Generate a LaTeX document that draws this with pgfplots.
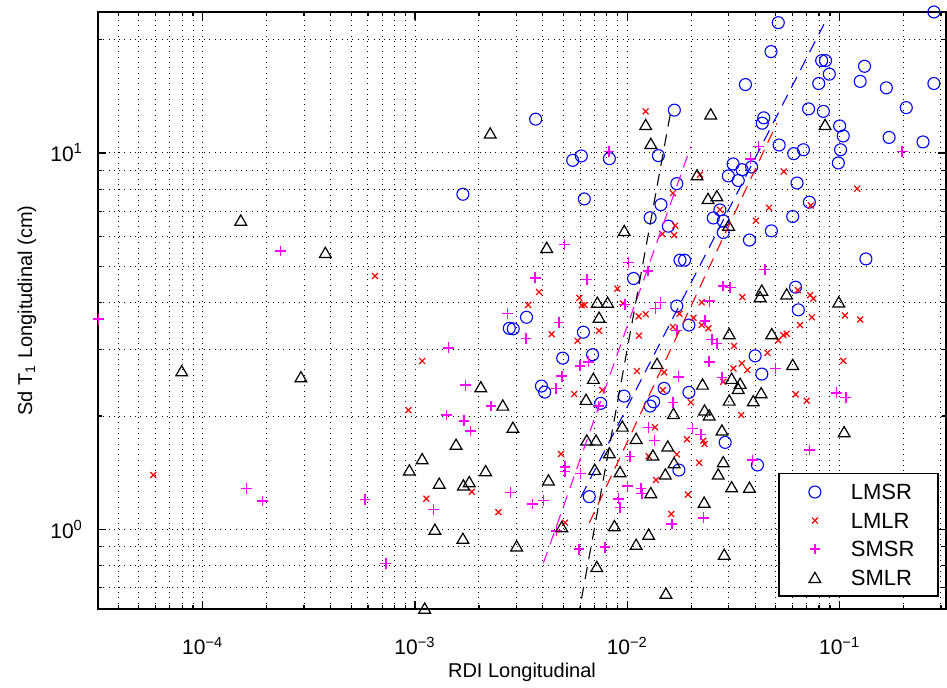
\documentclass[border=0pt]{standalone}
\usepackage{pgfplots}
\pgfplotsset{compat=1.18}
\usepackage{fontspec}
\setmainfont{Liberation Sans}
\definecolor{mag}{rgb}{1,0,1}
\begin{document}
\begin{tikzpicture}
\useasboundingbox (-49pt,-39.5pt) rectangle (424.5pt,304.5pt);
\begin{axis}[
  scale only axis, width=424pt, height=298.5pt,
  xmode=log, ymode=log,
  xmin=3.21e-5, xmax=0.317, ymin=0.614, ymax=23.7,
  xtick={1e-4,1e-3,1e-2,1e-1},
  xticklabels={10\textsuperscript{−4},10\textsuperscript{−3},10\textsuperscript{−2},10\textsuperscript{−1}},
  ytick={1,10},
  yticklabels={10\textsuperscript{0},10\textsuperscript{1}},
  minor xtick={4e-5,5e-5,6e-5,7e-5,8e-5,9e-5,2e-4,3e-4,4e-4,5e-4,6e-4,7e-4,8e-4,9e-4,2e-3,3e-3,4e-3,5e-3,6e-3,7e-3,8e-3,9e-3,0.02,0.03,0.04,0.05,0.06,0.07,0.08,0.09,0.2,0.3},
  minor ytick={0.7,0.8,0.9,2,3,4,5,6,7,8,9,20},
  grid=both,
  grid style={black, line width=0.5pt, dash pattern=on 0.5pt off 2.15pt},
  minor grid style={black, line width=0.5pt, dash pattern=on 0.5pt off 2.15pt},
  major grid style={black, line width=0.5pt, dash pattern=on 0.5pt off 2.15pt},
  tick align=inside, tick pos=both,
  major tick length=4pt, minor tick length=2pt,
  axis line style={line width=0.9pt},
  every tick/.style={black, line width=0.6pt},
  font=\fontsize{10.5}{12.6}\selectfont,
  xticklabel style={anchor=base, yshift=-23pt, font=\fontsize{10.5}{12.6}\selectfont},
  yticklabel style={font=\fontsize{10.5}{12.6}\selectfont, xshift=-4pt},
  xlabel={RDI Longitudinal},
  ylabel={Sd T\textsubscript{1} Longitudinal (cm)},
  xlabel style={at={(axis description cs:0.5,0)}, anchor=base, yshift=-34.5pt, font=\fontsize{10}{12}\selectfont},
  ylabel style={at={(axis description cs:-0.0837,0.5)}, anchor=center, font=\fontsize{10}{12}\selectfont},
  clip mode=individual,
  legend image code/.code={\path[draw=none, fill=none] (0pt,-7.125pt) rectangle (35.85pt,7.125pt); \draw[#1] plot coordinates {(17.85pt,0pt)};},
  legend style={at={(axis description cs:0.99175,0.0201)}, anchor=south east, draw=black, line width=0.8pt, inner xsep=0pt, inner ysep=2.2pt, row sep=0pt, nodes={inner sep=0pt, text depth=0pt}, font=\fontsize{11}{13}\selectfont},
  legend cell align=left,
]
\addplot[only marks, mark=o, color=blue, mark size=3pt, line width=0.55pt] coordinates {
(0.278,23.7) (0.0514,22.2) (0.0475,18.6) (0.0823,17.6) (0.0858,17.6) (0.131,17.0) (0.0894,16.2) (0.125,15.5) (0.0797,15.3) (0.278,15.3) (0.0360,15.2) (0.166,14.9) (0.206,13.2) (0.0714,13.1) (0.0838,12.9) (0.01665,13.0) (0.00370,12.3) (0.0439,12.4) (0.0432,12.0) (0.100,11.8) (0.104,11.1) (0.171,11.0) (0.247,10.7) (0.0519,10.5) (0.0675,10.2) (0.101,10.2) (0.0608,9.96) (0.00553,9.56) (0.00607,9.82) (0.00823,9.66) (0.0140,9.84) (0.0986,9.41) (0.0315,9.35) (0.0347,9.03) (0.0385,9.18) (0.0299,8.69) (0.0333,8.45) (0.0171,8.29) (0.0630,8.32) (0.00627,7.55) (0.0720,7.40) (0.0144,7.29) (0.0273,7.06) (0.0128,6.73) (0.0254,6.72) (0.0601,6.78) (0.0283,6.60) (0.0156,6.39) (0.0283,6.15) (0.0477,6.21) (0.0376,5.87) (0.133,5.23) (0.0177,5.19) (0.0186,5.19) (0.0107,4.64) (0.0620,4.40) (0.0171,3.92) (0.0639,3.83) (0.00335,3.66) (0.00278,3.42) (0.00290,3.41) (0.00621,3.34) (0.0195,3.49) (0.00168,7.77) (0.00496,2.85) (0.00686,2.91) (0.0400,2.89) (0.0430,2.585) (0.00394,2.402) (0.00408,2.315) (0.00965,2.259) (0.0149,2.368) (0.0195,2.311) (0.00749,2.161) (0.0128,2.126) (0.0133,2.182) (0.0289,1.702) (0.0410,1.482) (0.0175,1.437) (0.00662,1.221)
};
\addlegendentry{\makebox[43.65pt][l]{LMSR}}
\addplot[only marks, mark=x, color=red, mark size=2.1pt, line width=0.6pt] coordinates {
(0.0122,12.9) (0.000648,4.71) (0.0220,8.76) (0.0545,8.93) (0.121,8.04) (0.0164,7.82) (0.0731,7.25) (0.0465,7.15) (0.0273,7.07) (0.0403,6.61) (0.0168,6.41) (0.0146,6.09) (0.0166,6.05) (0.00384,4.27) (0.00897,4.36) (0.0636,4.32) (0.0348,4.14) (0.0726,4.19) (0.0752,4.10) (0.00594,4.12) (0.00610,3.94) (0.00629,3.95) (0.00341,3.95) (0.00954,3.98) (0.0224,4.01) (0.0113,3.68) (0.0122,3.73) (0.0176,3.74) (0.0205,3.65) (0.0740,3.66) (0.106,3.70) (0.125,3.61) (0.00108,2.80) (0.000930,2.074) (5.85e-5,1.394) (0.00185,1.258) (0.00113,1.206) (0.00247,1.111) (0.00440,3.30) (0.00736,3.37) (0.00583,3.17) (0.01135,3.27) (0.0164,3.45) (0.0224,3.49) (0.0241,3.42) (0.0318,3.07) (0.0514,3.18) (0.0543,3.28) (0.0563,3.31) (0.0651,3.49) (0.0457,2.944) (0.0111,2.633) (0.0149,2.612) (0.0316,2.676) (0.0346,2.759) (0.0368,2.649) (0.104,2.803) (0.00562,2.287) (0.00762,2.344) (0.0147,2.344) (0.0283,2.465) (0.0199,2.174) (0.0344,2.012) (0.0621,2.283) (0.0700,2.195) (0.0135,1.866) (0.0191,1.734) (0.0228,1.719) (0.0231,1.685) (0.0126,1.565) (0.0171,1.582) (0.00487,1.585) (0.0218,1.503) (0.01365,1.352) (0.0193,1.237) (0.0161,1.098) (0.00509,1.041)
};
\addlegendentry{\makebox[43.65pt][l]{LMLR}}
\addplot[only marks, mark=+, color=mag, mark size=2.7pt, line width=0.75pt] coordinates {
(3.22e-5,3.618) (0.000233,5.49) (0.00272,3.74) (0.00144,3.035) (0.00173,2.416) (0.00228,2.126) (0.00141,2.012) (0.00170,1.942) (0.00182,1.824) (0.000161,1.285) (0.00282,1.251) (0.000191,1.189) (0.000581,1.201) (0.00122,1.130) (0.000728,0.812) (0.0415,10.4) (0.00820,10.1) (0.197,10.1) (0.0381,9.65) (0.00505,5.72) (0.0101,5.12) (0.0125,4.86) (0.0444,4.90) (0.00368,4.66) (0.00644,4.61) (0.0282,4.43) (0.0305,4.39) (0.00973,3.96) (0.0143,4.00) (0.0136,3.86) (0.0244,4.04) (0.00477,3.54) (0.00333,3.216) (0.0171,3.37) (0.0232,3.58) (0.0250,3.196) (0.0264,3.118) (0.00599,2.719) (0.00655,2.786) (0.0174,2.542) (0.0243,2.786) (0.0500,2.676) (0.00491,2.553) (0.0279,2.533) (0.00462,2.368) (0.00730,2.126) (0.0164,2.169) (0.0969,2.305) (0.107,2.241) (0.0126,1.866) (0.0203,1.854) (0.0222,1.788) (0.0134,1.719) (0.0103,1.559) (0.0388,1.528) (0.0720,1.624) (0.00509,1.466) (0.00509,1.422) (0.00603,1.408) (0.0100,1.303) (0.0116,1.285) (0.0117,1.246) (0.00907,1.205) (0.00357,1.167) (0.00402,1.191) (0.00924,1.144) (0.0228,1.073) (0.0162,1.033) (0.00465,0.991) (0.00592,0.885) (0.00785,0.896)
};
\addlegendentry{\makebox[43.65pt][l]{SMSR}}
\addplot[only marks, mark=triangle, color=black, mark size=3.4pt, line width=0.6pt, mark options={yshift=-0.8pt}] coordinates {
(0.00226,11.3) (0.000151,6.63) (0.000378,5.44) (7.96e-5,2.637) (0.000290,2.542) (0.00204,2.391) (0.00259,2.138) (0.00289,1.866) (0.00156,1.682) (0.00108,1.540) (0.000940,1.437) (0.00215,1.431) (0.00130,1.325) (0.00169,1.311) (0.00180,1.338) (0.00124,1.000) (0.00168,0.946) (0.00301,0.903) (0.00111,0.617) (0.0247,12.7) (0.0122,11.9) (0.0854,11.9) (0.0129,10.6) (0.0213,8.75) (0.0240,7.57) (0.0264,7.70) (0.0300,6.43) (0.00967,6.22) (0.00417,5.61) (0.0430,4.32) (0.0422,4.15) (0.0563,4.22) (0.00722,4.01) (0.00807,4.01) (0.0991,4.02) (0.00736,3.66) (0.0302,3.31) (0.0479,3.31) (0.0138,2.759) (0.00692,2.518) (0.0226,2.431) (0.0310,2.518) (0.0340,2.442) (0.0333,2.368) (0.0427,2.305) (0.0302,2.204) (0.0392,2.195) (0.00639,2.214) (0.0601,2.742) (0.0165,2.032) (0.0231,2.074) (0.0243,2.012) (0.00947,1.880) (0.0279,1.835) (0.00644,1.726) (0.00712,1.726) (0.0110,1.744) (0.0155,1.664) (0.0132,1.575) (0.00823,1.597) (0.0283,1.512) (0.0166,1.503) (0.00702,1.443) (0.00924,1.422) (0.0151,1.402) (0.0268,1.402) (0.00425,1.352) (0.0310,1.297) (0.0376,1.293) (0.0129,1.251) (0.0230,1.180) (0.105,1.816) (0.00491,1.016) (0.00869,1.022) (0.0126,0.970) (0.0110,0.912) (0.0286,0.858) (0.00718,0.796) (0.0152,0.676)
};
\addlegendentry{\makebox[43.65pt][l]{SMLR}}
\addplot[forget plot, blue, line width=0.55pt, dash pattern=on 6pt off 4pt] coordinates {(0.00605,1.22) (0.0844,22.0)};
\addplot[forget plot, red, line width=0.55pt, dash pattern=on 6pt off 4pt] coordinates {(0.00662,1.04) (0.0506,12.0)};
\addplot[forget plot, mag, line width=0.55pt, dash pattern=on 6pt off 4pt] coordinates {(0.00402,0.812) (0.0199,10.4)};
\addplot[forget plot, black, line width=0.55pt, dash pattern=on 6pt off 4pt] coordinates {(0.00585,0.58) (0.0159,12.6)};
\end{axis}
\end{tikzpicture}
\end{document}
